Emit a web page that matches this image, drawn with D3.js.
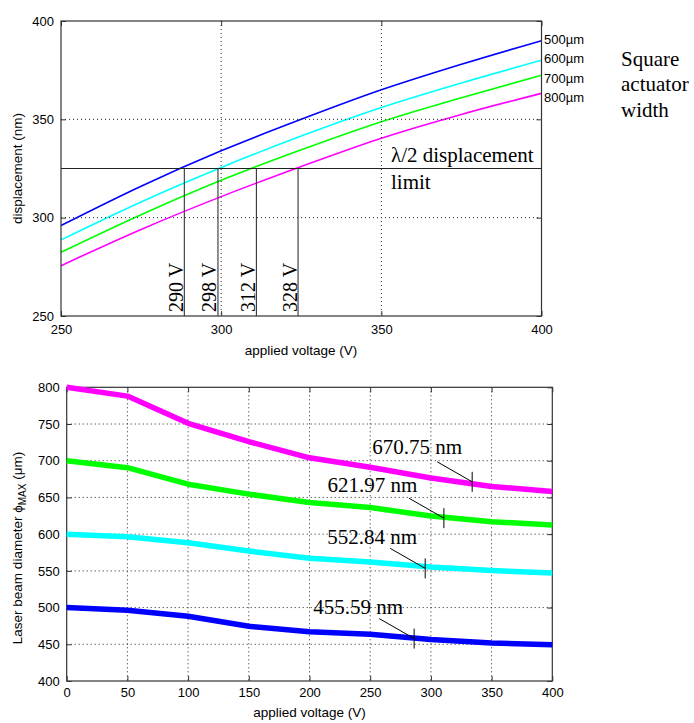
<!DOCTYPE html>
<html>
<head>
<meta charset="utf-8">
<script src="https://cdn.jsdelivr.net/npm/d3@7"></script>
<style>
  body { margin: 0; background: #fff; }
  svg text { fill: #000; }
</style>
</head>
<body>
<svg id="canvas" width="694" height="723"></svg>
<script>
// ---- top panel data: displacement vs applied voltage ----
var topVolts = [250, 275, 300, 325, 350, 375, 400];
var disp500 = [296, 316, 334, 350, 365, 378, 390];
var disp600 = [288.7, 308, 325.5, 341.5, 356, 368.5, 380];
var disp700 = [282.4, 301.5, 319, 334.5, 348.8, 361, 372.4];
var disp800 = [275.6, 294, 310.7, 326, 340.4, 352.5, 363.2];
var widthLabels = ['500\u00b5m', '600\u00b5m', '700\u00b5m', '800\u00b5m'];
var topColors = ['#0000ff', '#00ffff', '#00ff00', '#ff00ff'];
var limitDisp = 325;
var crossVolts = [288.5, 299, 311, 324];
var crossLabels = ['290 V', '298 V', '312 V', '328 V'];
var topXTicks = [250, 300, 350, 400];
var topYTicks = [250, 300, 350, 400];

// ---- bottom panel data: max beam diameter vs applied voltage ----
var beamVolts = [0, 50, 100, 150, 200, 250, 300, 350, 400];
var beam670 = [800, 788, 751, 726, 704, 691, 676.5, 665, 658];
var beam622 = [700, 690.5, 668, 654.5, 643, 636.4, 624.6, 617, 612.5];
var beam553 = [600, 596.4, 588.3, 577, 567.2, 562.2, 555.2, 550.6, 547];
var beam456 = [500, 496.4, 488.2, 474.6, 467, 463.6, 456.4, 451.8, 449.4];
var beamColors = ['#ff00ff', '#00ff00', '#00ffff', '#0000ff'];
var waveLabels = ['670.75 nm', '621.97 nm', '552.84 nm', '455.59 nm'];
var markVolts = [334, 310.7, 295.3, 286.2];
var markDiams = [671.3, 621.8, 553.4, 457.8];
var botXTicks = [0, 50, 100, 150, 200, 250, 300, 350, 400];
var botYTicks = [400, 450, 500, 550, 600, 650, 700, 750, 800];

var SANS = '"Liberation Sans", Arial, Helvetica, sans-serif';
var SERIF = '"Liberation Serif", "Times New Roman", serif';

var svg = d3.select('#canvas');

function drawFrame(g, x, y, xTicks, yTicks, padX, padY) {
    var x0 = x.range()[0], x1 = x.range()[1];
    var y0 = y.range()[1], y1 = y.range()[0];

    // dotted grid
    g.append('g').selectAll('line')
        .data(xTicks.filter(function(d) { return d !== x.domain()[0] && d !== x.domain()[1]; }))
        .enter().append('line')
        .attr('x1', function(d) { return x(d); })
        .attr('x2', function(d) { return x(d); })
        .attr('y1', y0).attr('y2', y1)
        .attr('stroke', '#222')
        .attr('stroke-width', 1)
        .attr('stroke-dasharray', '1,3');
    g.append('g').selectAll('line')
        .data(yTicks.filter(function(d) { return d !== y.domain()[0] && d !== y.domain()[1]; }))
        .enter().append('line')
        .attr('y1', function(d) { return y(d); })
        .attr('y2', function(d) { return y(d); })
        .attr('x1', x0).attr('x2', x1)
        .attr('stroke', '#222')
        .attr('stroke-width', 1)
        .attr('stroke-dasharray', '1,3');

    var axB = g.append('g').attr('transform', 'translate(0,' + y1 + ')')
        .call(d3.axisBottom(x).tickValues(xTicks).tickSize(-5).tickPadding(padX));
    var axL = g.append('g').attr('transform', 'translate(' + x0 + ',0)')
        .call(d3.axisLeft(y).tickValues(yTicks).tickSize(-5).tickPadding(padY));
    var axT = g.append('g').attr('transform', 'translate(0,' + y0 + ')')
        .call(d3.axisTop(x).tickValues(xTicks).tickSize(-5).tickFormat(''));
    var axR = g.append('g').attr('transform', 'translate(' + x1 + ',0)')
        .call(d3.axisRight(y).tickValues(yTicks).tickSize(-5).tickFormat(''));
    [axB, axL, axT, axR].forEach(function(a) {
        a.select('.domain').remove();
        a.selectAll('.tick line').attr('stroke', '#333');
        a.selectAll('text')
            .attr('font-family', SANS)
            .attr('font-size', '13px')
            .attr('fill', '#111');
    });

    g.append('rect')
        .attr('x', x0).attr('y', y0)
        .attr('width', x1 - x0).attr('height', y1 - y0)
        .attr('fill', 'none')
        .attr('stroke', '#333')
        .attr('stroke-width', 1.2);
}

// =================== top panel ===================
(function() {
    var x = d3.scaleLinear().domain([250, 400]).range([61, 541.5]);
    var y = d3.scaleLinear().domain([250, 400]).range([316, 21]);
    var g = svg.append('g');

    var series = [disp500, disp600, disp700, disp800];
    var line = d3.line()
        .x(function(d) { return x(d[0]); })
        .y(function(d) { return y(d[1]); })
        .curve(d3.curveMonotoneX);

    g.append('g').selectAll('path')
        .data(series)
        .enter().append('path')
        .attr('d', function(s) { return line(d3.zip(topVolts, s)); })
        .attr('fill', 'none')
        .attr('stroke', function(d, i) { return topColors[i]; })
        .attr('stroke-width', 1.6);

    drawFrame(g, x, y, topXTicks, topYTicks, 9, 7);

    // lambda/2 limit and crossing verticals
    g.append('line')
        .attr('x1', x(250)).attr('x2', x(400))
        .attr('y1', y(limitDisp)).attr('y2', y(limitDisp))
        .attr('stroke', '#222').attr('stroke-width', 1.2);
    g.append('g').selectAll('line')
        .data(crossVolts)
        .enter().append('line')
        .attr('x1', function(d) { return x(d); })
        .attr('x2', function(d) { return x(d); })
        .attr('y1', y(limitDisp)).attr('y2', y(250))
        .attr('stroke', '#333').attr('stroke-width', 1.1);
    g.append('g').selectAll('text')
        .data(crossVolts)
        .enter().append('text')
        .attr('transform', function(d) { return 'translate(' + (x(d) - 1.5) + ',' + 312 + ') rotate(-90)'; })
        .attr('font-family', SERIF)
        .attr('font-size', '20px')
        .text(function(d, i) { return crossLabels[i]; });

    g.append('text')
        .attr('x', 391).attr('y', 162)
        .attr('font-family', SERIF).attr('font-size', '21px')
        .text('\u03bb/2 displacement');
    g.append('text')
        .attr('x', 391).attr('y', 188.5)
        .attr('font-family', SERIF).attr('font-size', '21px')
        .text('limit');

    // series labels on the right
    g.append('g').selectAll('text')
        .data(widthLabels)
        .enter().append('text')
        .attr('x', 544)
        .attr('y', function(d, i) { return 39 + i * 19.6; })
        .attr('dy', '0.35em')
        .attr('font-family', SANS)
        .attr('font-size', '13px')
        .text(function(d) { return d; });

    g.append('g').selectAll('text')
        .data(['Square', 'actuator', 'width'])
        .enter().append('text')
        .attr('x', 621)
        .attr('y', function(d, i) { return 65.5 + i * 25.5; })
        .attr('font-family', SERIF)
        .attr('font-size', '21px')
        .text(function(d) { return d; });

    g.append('text')
        .attr('transform', 'translate(22,168.5) rotate(-90)')
        .attr('text-anchor', 'middle')
        .attr('font-family', SANS).attr('font-size', '13.5px')
        .text('displacement (nm)');
    g.append('text')
        .attr('x', 301).attr('y', 355)
        .attr('text-anchor', 'middle')
        .attr('font-family', SANS).attr('font-size', '13.5px')
        .text('applied voltage (V)');
})();

// =================== bottom panel ===================
(function() {
    var x = d3.scaleLinear().domain([0, 400]).range([66.7, 552.3]);
    var y = d3.scaleLinear().domain([400, 800]).range([681, 387.3]);
    var g = svg.append('g');

    drawFrame(g, x, y, botXTicks, botYTicks, 7, 7);

    var series = [beam670, beam622, beam553, beam456];
    var line = d3.line()
        .x(function(d) { return x(d[0]); })
        .y(function(d) { return y(d[1]); });

    g.append('g').selectAll('path')
        .data(series)
        .enter().append('path')
        .attr('d', function(s) { return line(d3.zip(beamVolts, s)); })
        .attr('fill', 'none')
        .attr('stroke', function(d, i) { return beamColors[i]; })
        .attr('stroke-width', 5.5)
        .attr('stroke-linejoin', 'round');

    // annotations: tick mark on the curve, leader line, wavelength label
    var labelOffset = [[-100, -27.5], [-116.5, -26], [-98, -24.5], [-101, -25]];
    markVolts.forEach(function(v, i) {
        var px = x(v), py = y(markDiams[i]);
        g.append('line')
            .attr('x1', px).attr('y1', py - 10)
            .attr('x2', px).attr('y2', py + 10)
            .attr('stroke', '#000').attr('stroke-width', 1);
        g.append('line')
            .attr('x1', px - 35).attr('y1', py - 20)
            .attr('x2', px).attr('y2', py)
            .attr('stroke', '#000').attr('stroke-width', 1);
        g.append('text')
            .attr('x', px + labelOffset[i][0])
            .attr('y', py + labelOffset[i][1])
            .attr('font-family', SERIF)
            .attr('font-size', '21px')
            .text(waveLabels[i]);
    });

    var yl = g.append('text')
        .attr('transform', 'translate(22,548) rotate(-90)')
        .attr('text-anchor', 'middle')
        .attr('font-family', SANS).attr('font-size', '13.5px');
    yl.append('tspan').text('Laser beam diameter \u03d5');
    yl.append('tspan').attr('dy', 4).attr('font-size', '10px').text('MAX');
    yl.append('tspan').attr('dy', -4).text(' (\u03bcm)');

    g.append('text')
        .attr('x', 309.5).attr('y', 717)
        .attr('text-anchor', 'middle')
        .attr('font-family', SANS).attr('font-size', '13.5px')
        .text('applied voltage (V)');
})();
</script>
</body>
</html>
